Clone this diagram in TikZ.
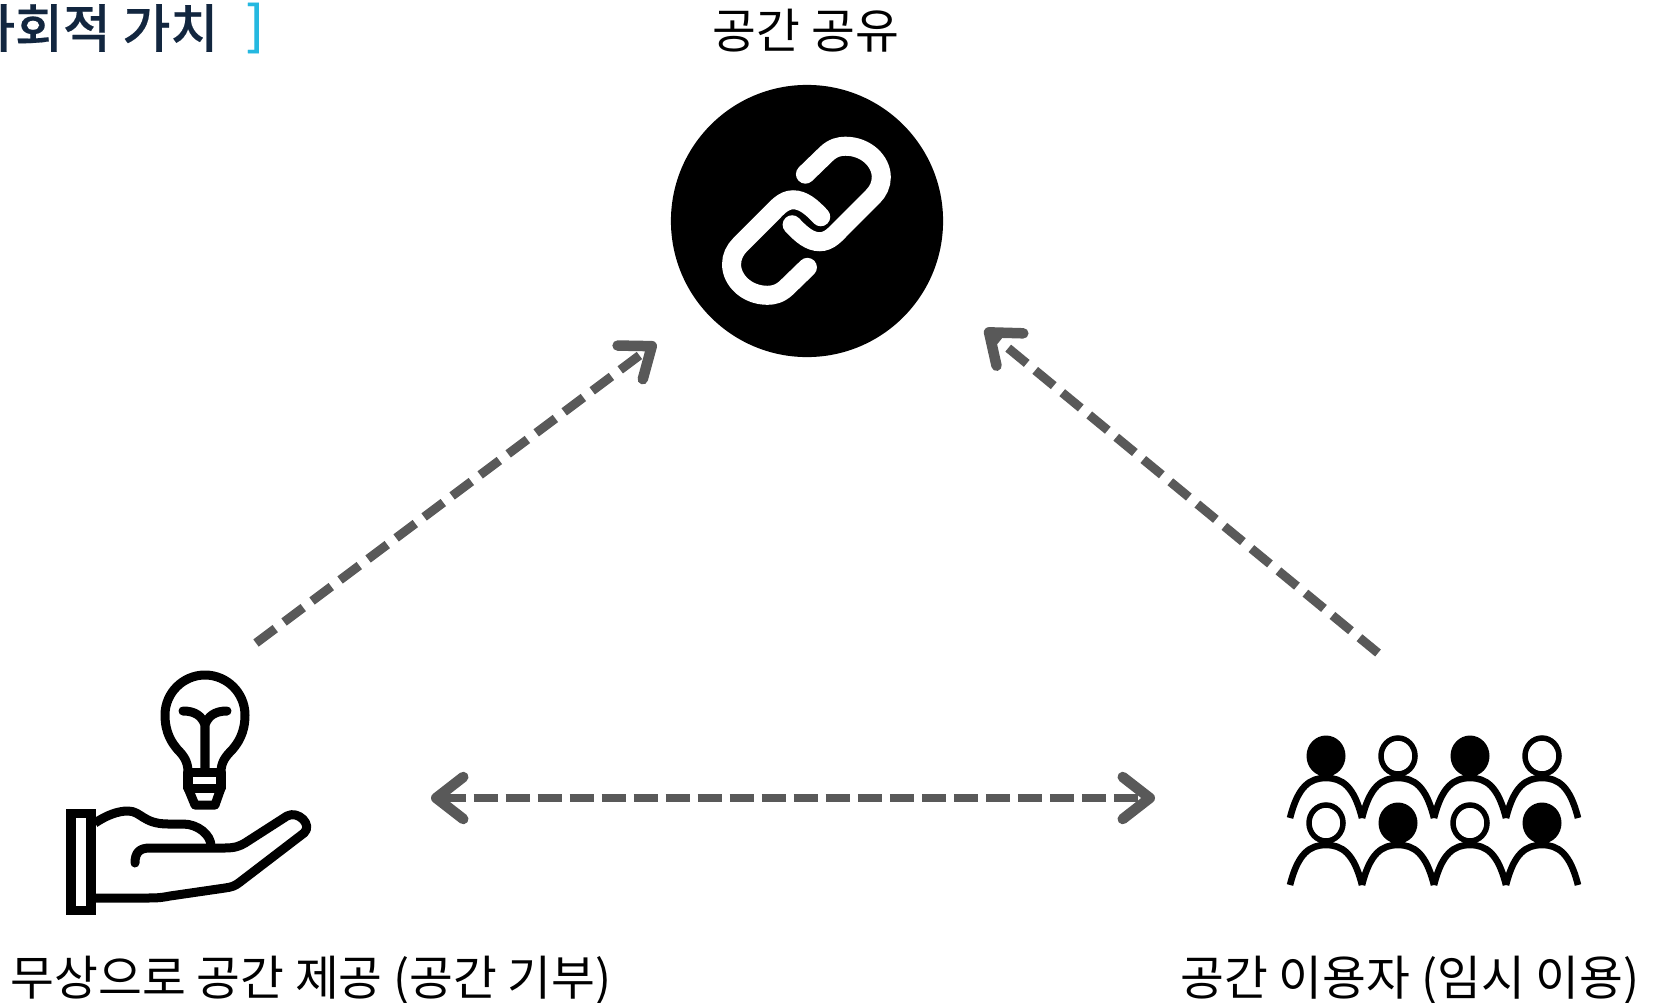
\documentclass[tikz,border=0pt]{standalone}
\usepackage{fontspec}
\setmainfont{Noto Sans CJK KR}
\newfontfamily\titlefont[FakeBold=0.35]{Noto Sans CJK KR Medium}
\usetikzlibrary{arrows.meta}
\definecolor{navytxt}{HTML}{12263F}
\definecolor{cyanbr}{HTML}{25B8E0}
\definecolor{dashgray}{HTML}{595959}
\tikzset{
  headtip/.tip={Straight Barb[length=0.27cm,width=0.42cm,line width=0.105cm,round]},
  relation/.style={draw=dashgray,line width=0.085cm,dash pattern=on 0.24cm off 0.08cm},
  slanted/.style={relation,line width=0.09cm,dash pattern=on 0.24cm off 0.11cm},
  caption/.style={inner sep=0pt,font=\fontsize{13.55}{16}\selectfont},
  heading/.style={inner sep=0pt,anchor=east,font=\titlefont\fontsize{14.8}{18}\selectfont},
  icon/.style={line width=0.09cm,line join=round,line cap=round},
  person/.style={line width=0.066cm}
}
\begin{document}
\begin{tikzpicture}[x=0.01cm,y=-0.01cm]
  \useasboundingbox (0,0) rectangle (1654,1003);

  % Titel
  \node[heading,text=navytxt] (title) at (219,28) {사회적 가치};
  \node[heading,text=cyanbr] (bracket) at (265,28) {]};

  % Kreis mit Kette
  \node[circle,fill=black,minimum size=2.72cm,inner sep=0pt] (share) at (807,221) {};
  \begin{scope}[shift={(660,70)},x=0.00333cm,y=-0.00333cm]
    \foreach \a in {0,180}{
      \draw[white,line width=0.19cm,line cap=round,rotate around={\a:(440,453)}]
        (437,313) -- (500,252) .. controls (520,233) and (540,229) .. (557,229)
        .. controls (620,229) and (665,275) .. (665,322)
        .. controls (665,345) and (655,365) .. (640,380) -- (548,472)
        .. controls (530,490) and (510,516) .. (480,516)
        .. controls (450,516) and (425,495) .. (397,465);
    }
  \end{scope}

  % Gluehbirne
  \draw[icon] (188,772) .. controls (188,762) and (184,756) .. (178,750)
    .. controls (172,743) and (165,733) .. (165,715)
    .. controls (165,693) and (183,675) .. (205,675)
    .. controls (227,675) and (245,693) .. (245,715)
    .. controls (245,733) and (238,743) .. (232,750)
    .. controls (226,756) and (221,762) .. (221,772);
  \draw[icon] (188,772) rectangle (221,788);
  \draw[icon] (188,788) -- (195,805) -- (215,805) -- (221,788);
  \draw[icon] (205,772) -- (205,722) (183,711) .. controls (195,711) and (202,716) .. (205,725)
    .. controls (208,716) and (215,711) .. (227,711);

  % Hand
  \draw[icon,line cap=butt,line join=miter] (71,813) rectangle (91,910);
  \draw[icon,line cap=butt] (95,823) .. controls (107,815) and (118,811) .. (128,811)
    .. controls (141,811) and (143,824) .. (168,824) -- (183,824)
    .. controls (198,824) and (211,835) .. (211,846);
  \draw[icon] (135,863) .. controls (135,852) and (140,848) .. (150,848) -- (225,848)
    .. controls (235,848) and (240,846) .. (245,843) -- (287,816)
    .. controls (298,810) and (313,825) .. (304,833) -- (240,882)
    .. controls (235,886) and (232,887) .. (225,888) -- (170,896)
    .. controls (160,898) and (155,898) .. (145,898) -- (95,898);

  % Personen
  \foreach \px/\py/\pfill in {1326/756/1,1398/756/0,1470/756/1,1542/756/0,1326/823/0,1398/823/1,1470/823/0,1542/823/1}{
    \ifnum\pfill=1
      \fill (\px,\py) ellipse (19.5 and 20.5);
    \else
      \draw[line width=0.055cm] (\px,\py) ellipse (17 and 18);
    \fi
    \draw[person] (\px-36,\py+62) .. controls (\px-28,\py+30) and (\px-16,\py+22) .. (\px,\py+22)
      .. controls (\px+16,\py+22) and (\px+28,\py+30) .. (\px+36,\py+62);
  }

  % Beschriftung
  \node[caption] (sharelabel) at (806,31) {공간 공유};
  \node[caption,anchor=west] (givelabel) at (10,980) {무상으로 공간 제공 (공간 기부)};
  \node[caption,anchor=east] (uselabel) at (1640,980) {공간 이용자 (임시 이용)};

  % Pfeile
  \coordinate (g1) at (256,643);
  \coordinate (s1) at (656,343);
  \coordinate (u1) at (1378,653);
  \coordinate (s2) at (985,329);
  \coordinate (g2) at (431,798);
  \coordinate (u2) at (1155,798);
  \draw[slanted,-{headtip}] (g1) -- (s1);
  \draw[slanted,-{headtip}] (u1) -- (s2);
  \draw[relation,{headtip}-{headtip}] (g2) -- (u2);
\end{tikzpicture}
\end{document}
